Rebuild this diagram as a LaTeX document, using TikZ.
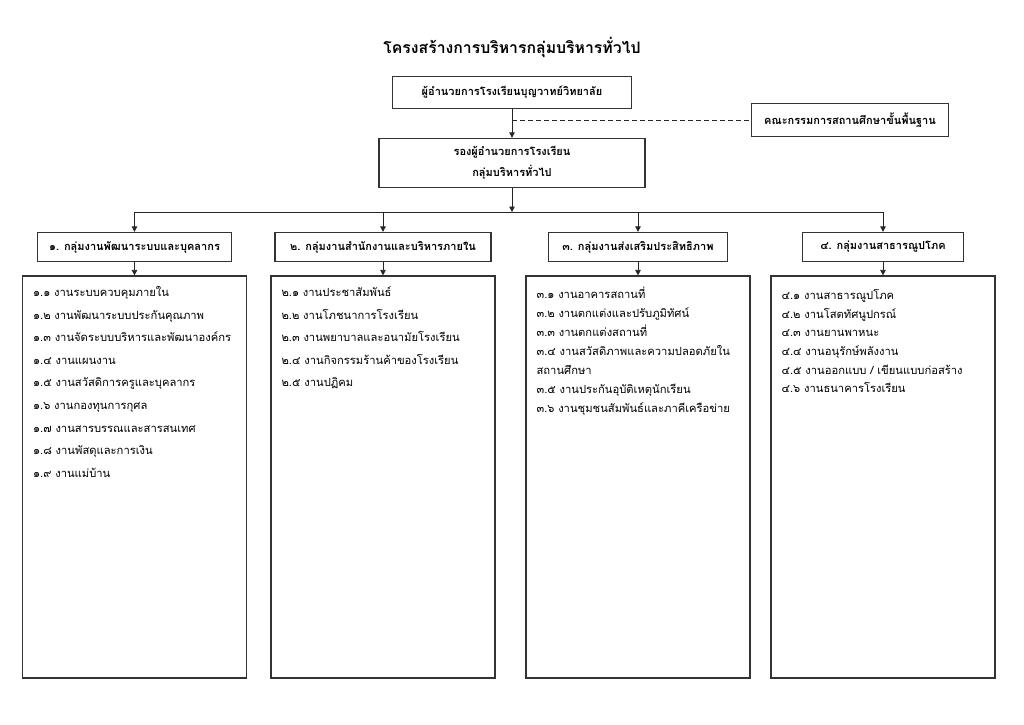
\documentclass[tikz,border=0pt]{standalone}
\usepackage{fontspec}
\newfontfamily\thaifont[Script=Thai]{Loma}
\usetikzlibrary{arrows.meta,calc}
\begin{document}
\begin{tikzpicture}[x=1pt,y=-1pt,
  box/.style={draw=black!80, line width=1.3pt, fill=white, inner sep=0pt, align=center,
    font=\thaifont\bfseries\fontsize{11}{21}\selectfont},
  listbox/.style={draw=black!80, line width=1.2pt, fill=white, inner sep=0pt,
    minimum width=224pt, minimum height=402pt},
  item/.style={anchor=base west, inner sep=0pt, font=\thaifont\fontsize{11.2}{13}\selectfont},
  conn/.style={draw=black!85, line width=0.8pt},
  arr/.style={conn, -{Triangle[length=5.5pt,width=5.5pt]}},
  dashline/.style={draw=black!85, line width=0.9pt, dash pattern=on 5pt off 3pt},
  ]
\useasboundingbox (0,0) rectangle (1024,724);
\node[inner sep=0pt, font=\thaifont\bfseries\fontsize{15.8}{19}\selectfont] (title) at (512,47)
  {โครงสร้างการบริหารกลุ่มบริหารทั่วไป};
\node[box, minimum width=239pt, minimum height=32pt] (dir) at (512,92.5)
  {ผู้อำนวยการโรงเรียนบุญวาทย์วิทยาลัย};
\node[box, minimum width=197pt, minimum height=33pt] (com) at (850,120)
  {คณะกรรมการสถานศึกษาขั้นพื้นฐาน};
\node[box, minimum width=266pt, minimum height=49pt] (dep) at (512,163)
  {รองผู้อำนวยการโรงเรียน\\กลุ่มบริหารทั่วไป};
\draw[dashline] (dir.south |- com.west) -- (com.west);
\draw[arr] (dir.south) -- (dep.north);
\coordinate (bus) at (512,212);
\draw[arr] (dep.south) -- (bus);

\node[box, minimum width=194pt, minimum height=29pt] (h1) at (134.5,247) {๑. กลุ่มงานพัฒนาระบบและบุคลากร};
\node[box, minimum width=216pt, minimum height=29pt] (h2) at (383,247) {๒. กลุ่มงานสำนักงานและบริหารภายใน};
\node[box, minimum width=179pt, minimum height=29pt] (h3) at (638,247) {๓. กลุ่มงานส่งเสริมประสิทธิภาพ};
\node[box, minimum width=161pt, minimum height=29pt] (h4) at (883,247) {๔. กลุ่มงานสาธารณูปโภค};

\draw[conn] (h1.north |- bus) -- (h4.north |- bus);
\foreach \h in {h1,h2,h3,h4} \draw[arr] (\h.north |- bus) -- (\h.north);

\node[listbox] (l1) at (134.5,477) {};
\node[listbox] (l2) at (383,477) {};
\node[listbox] (l3) at (638,477) {};
\node[listbox] (l4) at (883,477) {};
\foreach \n in {1,2,3,4} \draw[arr] (h\n.south) -- (l\n.north);

\foreach \t [count=\i from 0] in {๑.๑ งานระบบควบคุมภายใน,๑.๒ งานพัฒนาระบบประกันคุณภาพ,๑.๓ งานจัดระบบบริหารและพัฒนาองค์กร,๑.๔ งานแผนงาน,๑.๕ งานสวัสดิการครูและบุคลากร,๑.๖ งานกองทุนการกุศล,๑.๗ งานสารบรรณและสารสนเทศ,๑.๘ งานพัสดุและการเงิน,๑.๙ งานแม่บ้าน}
  \node[item] (a\i) at ($(l1.north west)+(11,21+22.6*\i)$) {\t};
\foreach \t [count=\i from 0] in {๒.๑ งานประชาสัมพันธ์,๒.๒ งานโภชนาการโรงเรียน,๒.๓ งานพยาบาลและอนามัยโรงเรียน,๒.๔ งานกิจกรรมร้านค้าของโรงเรียน,๒.๕ งานปฏิคม}
  \node[item] (b\i) at ($(l2.north west)+(11,21+22.6*\i)$) {\t};
\foreach \t [count=\i from 0] in {๓.๑ งานอาคารสถานที่,๓.๒ งานตกแต่งและปรับภูมิทัศน์,๓.๓ งานตกแต่งสถานที่,๓.๔ งานสวัสดิภาพและความปลอดภัยใน,สถานศึกษา,๓.๕ งานประกันอุบัติเหตุนักเรียน,๓.๖ งานชุมชนสัมพันธ์และภาคีเครือข่าย}
  \node[item] (c\i) at ($(l3.north west)+(11,23+19*\i)$) {\t};
\foreach \t [count=\i from 0] in {๔.๑ งานสาธารณูปโภค,๔.๒ งานโสตทัศนูปกรณ์,๔.๓ งานยานพาหนะ,๔.๔ งานอนุรักษ์พลังงาน,๔.๕ งานออกแบบ / เขียนแบบก่อสร้าง,๔.๖ งานธนาคารโรงเรียน}
  \node[item] (d\i) at ($(l4.north west)+(11,24+18.7*\i)$) {\t};
\end{tikzpicture}
\end{document}
